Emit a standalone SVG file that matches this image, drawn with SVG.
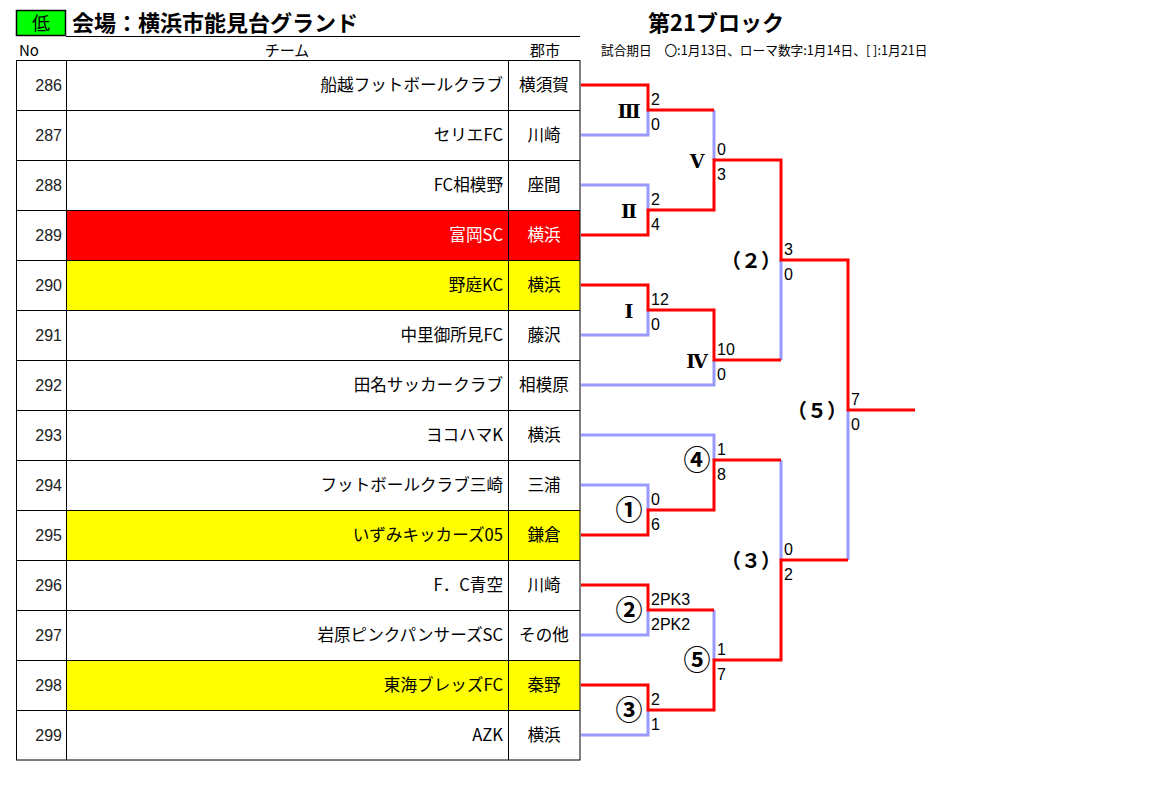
<svg xmlns="http://www.w3.org/2000/svg" width="1152" height="807" viewBox="0 0 1152 807">
<style>
.jp{font-family:"Noto Sans CJK JP","Liberation Sans",sans-serif}
.title{font-family:"Noto Sans CJK JP",sans-serif;font-size:22px;font-weight:bold;fill:#000}
.hdr{font-family:"Noto Sans CJK JP",sans-serif;font-size:15px;fill:#000}
.no{font-family:"Liberation Sans",sans-serif;font-size:16px;fill:#222;text-anchor:end}
.team{font-family:"Noto Sans CJK JP",sans-serif;font-size:16.6px;fill:#000;text-anchor:end}
.city{font-family:"Noto Sans CJK JP",sans-serif;font-size:16.6px;fill:#000;text-anchor:middle}
.sc{font-family:"Liberation Sans",sans-serif;font-size:16px;fill:#000}
.rn{font-family:"DejaVu Serif","Noto Sans CJK JP",serif;font-size:19px;font-weight:bold;fill:#000;text-anchor:middle}
.cn{font-family:"Noto Sans CJK JP",sans-serif;font-size:20px;font-weight:bold;fill:#000;text-anchor:middle}
.ci{font-family:"Noto Sans CJK JP",sans-serif;font-size:27px;font-weight:bold;fill:#000;text-anchor:middle}
.grid{stroke:#000;stroke-width:1;fill:none}
.r{stroke:#ff0000;stroke-width:3;fill:none}
.b{stroke:#9999ff;stroke-width:3;fill:none}
</style>
<rect width="1152" height="807" fill="#fff"/>
<g id="header">
<rect x="16.5" y="10.5" width="49" height="25" fill="#00ff00" stroke="#000" stroke-width="1.5"/>
<text x="41" y="30" class="jp" font-size="18" text-anchor="middle">低</text>
<text x="72" y="31" class="title">会場：横浜市能見台グランド</text>
<line x1="66" y1="36.5" x2="580" y2="36.5" stroke="#000" stroke-width="1"/>
<text x="19" y="56" class="hdr">No</text>
<text x="287" y="56" class="hdr" text-anchor="middle" fill="#333">チーム</text>
<text x="545" y="56" class="hdr" text-anchor="middle">郡市</text>
<text x="716" y="31" class="title" font-size="21" text-anchor="middle">第21ブロック</text>
<text x="601" y="55" class="jp" font-size="12.7">試合期日　〇:1月13日、ローマ数字:1月14日、[ ]:1月21日</text>
</g>
<g id="table">
<rect x="66" y="210" width="514" height="50" fill="#ff0000"/>
<rect x="66" y="260" width="514" height="50" fill="#ffff00"/>
<rect x="66" y="510" width="514" height="50" fill="#ffff00"/>
<rect x="66" y="660" width="514" height="50" fill="#ffff00"/>
<rect x="16.5" y="60.5" width="563.5" height="699.5" class="grid"/>
<path class="grid" d="M66.5 60V760M508.5 60V760M16 110.5H580M16 160.5H580M16 210.5H580M16 260.5H580M16 310.5H580M16 360.5H580M16 410.5H580M16 460.5H580M16 510.5H580M16 560.5H580M16 610.5H580M16 660.5H580M16 710.5H580"/>
</g>
<g id="rows">
<g id="row286"><text x="62" y="91" class="no">286</text><text x="503" y="91" class="team">船越フットボールクラブ</text><text x="544" y="91" class="city">横須賀</text></g>
<g id="row287"><text x="62" y="141" class="no">287</text><text x="503" y="141" class="team">セリエFC</text><text x="544" y="141" class="city">川崎</text></g>
<g id="row288"><text x="62" y="191" class="no">288</text><text x="503" y="191" class="team">FC相模野</text><text x="544" y="191" class="city">座間</text></g>
<g id="row289"><text x="62" y="241" class="no">289</text><text x="503" y="241" class="team" style="fill:#fff">富岡SC</text><text x="544" y="241" class="city" style="fill:#fff">横浜</text></g>
<g id="row290"><text x="62" y="291" class="no">290</text><text x="503" y="291" class="team">野庭KC</text><text x="544" y="291" class="city">横浜</text></g>
<g id="row291"><text x="62" y="341" class="no">291</text><text x="503" y="341" class="team">中里御所見FC</text><text x="544" y="341" class="city">藤沢</text></g>
<g id="row292"><text x="62" y="391" class="no">292</text><text x="503" y="391" class="team">田名サッカークラブ</text><text x="544" y="391" class="city">相模原</text></g>
<g id="row293"><text x="62" y="441" class="no">293</text><text x="503" y="441" class="team">ヨコハマK</text><text x="544" y="441" class="city">横浜</text></g>
<g id="row294"><text x="62" y="491" class="no">294</text><text x="503" y="491" class="team">フットボールクラブ三崎</text><text x="544" y="491" class="city">三浦</text></g>
<g id="row295"><text x="62" y="541" class="no">295</text><text x="503" y="541" class="team">いずみキッカーズ05</text><text x="544" y="541" class="city">鎌倉</text></g>
<g id="row296"><text x="62" y="591" class="no">296</text><text x="503" y="591" class="team">F．C青空</text><text x="544" y="591" class="city">川崎</text></g>
<g id="row297"><text x="62" y="641" class="no">297</text><text x="503" y="641" class="team">岩原ピンクパンサーズSC</text><text x="544" y="641" class="city">その他</text></g>
<g id="row298"><text x="62" y="691" class="no">298</text><text x="503" y="691" class="team">東海ブレッズFC</text><text x="544" y="691" class="city">秦野</text></g>
<g id="row299"><text x="62" y="741" class="no">299</text><text x="503" y="741" class="team">AZK</text><text x="544" y="741" class="city">横浜</text></g>
</g>
<g id="connectors">
<path class="b" d="M581 135H648V110"/>
<path class="b" d="M581 185H648V210"/>
<path class="b" d="M714 110V160"/>
<path class="b" d="M581 335H648V310"/>
<path class="b" d="M581 385H714V360"/>
<path class="b" d="M781 260V360"/>
<path class="b" d="M848 410V560"/>
<path class="b" d="M581 435H714V460"/>
<path class="b" d="M581 485H648V510"/>
<path class="b" d="M781 460V560"/>
<path class="b" d="M581 635H648V610"/>
<path class="b" d="M714 610V660"/>
<path class="b" d="M581 735H648V710"/>
<path class="r" d="M581 85H648V110H714"/>
<path class="r" d="M581 235H648V210H714V160H781V260H848V410H915"/>
<path class="r" d="M581 285H648V310H714V360H781"/>
<path class="r" d="M581 535H648V510H714V460H781"/>
<path class="r" d="M581 585H648V610H714"/>
<path class="r" d="M581 685H648V710H714V660H781V560H848"/>
</g>
<g id="labels">
<text x="629" y="118" class="rn">Ⅲ</text>
<text x="629" y="218" class="rn">Ⅱ</text>
<text x="697" y="168" class="rn">Ⅴ</text>
<text x="629" y="318" class="rn">Ⅰ</text>
<text x="697" y="368" class="rn">Ⅳ</text>
<text x="751" y="268" class="cn">（２）</text>
<text x="817" y="418" class="cn">（５）</text>
<text x="697" y="470" class="ci">④</text>
<text x="629" y="520" class="ci">①</text>
<text x="751" y="568" class="cn">（３）</text>
<text x="629" y="620" class="ci">②</text>
<text x="697" y="670" class="ci">⑤</text>
<text x="629" y="720" class="ci">③</text>
</g>
<g id="scores">
<text x="651" y="105" class="sc">2</text><text x="651" y="130" class="sc">0</text>
<text x="651" y="205" class="sc">2</text><text x="651" y="230" class="sc">4</text>
<text x="717" y="155" class="sc">0</text><text x="717" y="180" class="sc">3</text>
<text x="651" y="305" class="sc">12</text><text x="651" y="330" class="sc">0</text>
<text x="717" y="355" class="sc">10</text><text x="717" y="380" class="sc">0</text>
<text x="784" y="255" class="sc">3</text><text x="784" y="280" class="sc">0</text>
<text x="851" y="405" class="sc">7</text><text x="851" y="430" class="sc">0</text>
<text x="717" y="455" class="sc">1</text><text x="717" y="480" class="sc">8</text>
<text x="651" y="505" class="sc">0</text><text x="651" y="530" class="sc">6</text>
<text x="784" y="555" class="sc">0</text><text x="784" y="580" class="sc">2</text>
<text x="651" y="605" class="sc">2PK3</text><text x="651" y="630" class="sc">2PK2</text>
<text x="717" y="655" class="sc">1</text><text x="717" y="680" class="sc">7</text>
<text x="651" y="705" class="sc">2</text><text x="651" y="730" class="sc">1</text>
</g>
</svg>
